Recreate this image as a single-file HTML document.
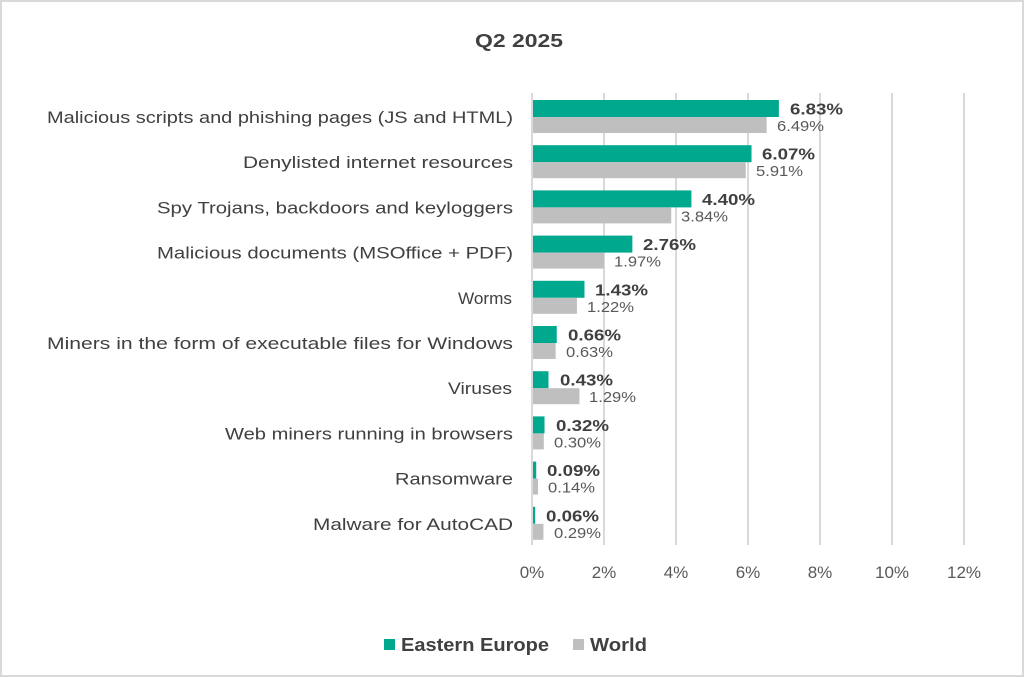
<!DOCTYPE html>
<html><head><meta charset="utf-8"><style>
html,body{margin:0;padding:0;background:#fff}
svg{display:block}
text{font-family:"Liberation Sans",sans-serif}
.c{font-size:17px;fill:#404040;text-anchor:end}
.g{font-size:16px;font-weight:bold;fill:#404040}
.w{font-size:15px;fill:#595959}
</style></head><body>
<svg width="1024" height="677" viewBox="0 0 1024 677" xmlns="http://www.w3.org/2000/svg">
<rect x="1" y="1" width="1022" height="675" fill="#fff" stroke="#d9d9d9" stroke-width="2"/>
<text x="519" y="47" text-anchor="middle" font-size="18" font-weight="bold" fill="#404040" textLength="88" lengthAdjust="spacingAndGlyphs">Q2 2025</text>
<g stroke="#d9d9d9" stroke-width="2">
<line x1="604" y1="93" x2="604" y2="545"/>
<line x1="676" y1="93" x2="676" y2="545"/>
<line x1="748" y1="93" x2="748" y2="545"/>
<line x1="820" y1="93" x2="820" y2="545"/>
<line x1="892" y1="93" x2="892" y2="545"/>
<line x1="964" y1="93" x2="964" y2="545"/>
<line x1="532" y1="93" x2="532" y2="545"/>
</g>
<g fill="#00a88e">
<rect x="533" y="100" width="245.88" height="17"/>
<rect x="533" y="145.2" width="218.52" height="17"/>
<rect x="533" y="190.4" width="158.4" height="17"/>
<rect x="533" y="235.6" width="99.36" height="17"/>
<rect x="533" y="280.8" width="51.48" height="17"/>
<rect x="533" y="326" width="23.76" height="17"/>
<rect x="533" y="371.2" width="15.48" height="17"/>
<rect x="533" y="416.4" width="11.52" height="17"/>
<rect x="533" y="461.6" width="3.24" height="17"/>
<rect x="533" y="506.8" width="2.16" height="17"/>
</g>
<g fill="#bfbfbf">
<rect x="533" y="117" width="233.64" height="16"/>
<rect x="533" y="162.2" width="212.76" height="16"/>
<rect x="533" y="207.4" width="138.24" height="16"/>
<rect x="533" y="252.6" width="70.92" height="16"/>
<rect x="533" y="297.8" width="43.92" height="16"/>
<rect x="533" y="343" width="22.68" height="16"/>
<rect x="533" y="388.2" width="46.44" height="16"/>
<rect x="533" y="433.4" width="10.8" height="16"/>
<rect x="533" y="478.6" width="5.04" height="16"/>
<rect x="533" y="523.8" width="10.44" height="16"/>
</g>
<text class="c" x="513" y="123" textLength="466" lengthAdjust="spacingAndGlyphs">Malicious scripts and phishing pages (JS and HTML)</text>
<text class="c" x="513" y="168.2" textLength="270" lengthAdjust="spacingAndGlyphs">Denylisted internet resources</text>
<text class="c" x="513" y="213.4" textLength="356" lengthAdjust="spacingAndGlyphs">Spy Trojans, backdoors and keyloggers</text>
<text class="c" x="513" y="258.6" textLength="356" lengthAdjust="spacingAndGlyphs">Malicious documents (MSOffice + PDF)</text>
<text class="c" x="512" y="303.8" textLength="54" lengthAdjust="spacingAndGlyphs">Worms</text>
<text class="c" x="513" y="349" textLength="466" lengthAdjust="spacingAndGlyphs">Miners in the form of executable files for Windows</text>
<text class="c" x="512" y="394.2" textLength="64" lengthAdjust="spacingAndGlyphs">Viruses</text>
<text class="c" x="513" y="439.4" textLength="288" lengthAdjust="spacingAndGlyphs">Web miners running in browsers</text>
<text class="c" x="513" y="484.6" textLength="118" lengthAdjust="spacingAndGlyphs">Ransomware</text>
<text class="c" x="513" y="529.8" textLength="200" lengthAdjust="spacingAndGlyphs">Malware for AutoCAD</text>
<text class="g" x="790" y="114.5" textLength="53" lengthAdjust="spacingAndGlyphs">6.83%</text>
<text class="g" x="762" y="159.7" textLength="53" lengthAdjust="spacingAndGlyphs">6.07%</text>
<text class="g" x="702" y="204.9" textLength="53" lengthAdjust="spacingAndGlyphs">4.40%</text>
<text class="g" x="643" y="250.1" textLength="53" lengthAdjust="spacingAndGlyphs">2.76%</text>
<text class="g" x="595" y="295.3" textLength="53" lengthAdjust="spacingAndGlyphs">1.43%</text>
<text class="g" x="568" y="340.5" textLength="53" lengthAdjust="spacingAndGlyphs">0.66%</text>
<text class="g" x="560" y="385.7" textLength="53" lengthAdjust="spacingAndGlyphs">0.43%</text>
<text class="g" x="556" y="430.9" textLength="53" lengthAdjust="spacingAndGlyphs">0.32%</text>
<text class="g" x="547" y="476.1" textLength="53" lengthAdjust="spacingAndGlyphs">0.09%</text>
<text class="g" x="546" y="521.3" textLength="53" lengthAdjust="spacingAndGlyphs">0.06%</text>
<text class="w" x="777" y="131" textLength="47" lengthAdjust="spacingAndGlyphs">6.49%</text>
<text class="w" x="756" y="176.2" textLength="47" lengthAdjust="spacingAndGlyphs">5.91%</text>
<text class="w" x="681" y="221.4" textLength="47" lengthAdjust="spacingAndGlyphs">3.84%</text>
<text class="w" x="614" y="266.6" textLength="47" lengthAdjust="spacingAndGlyphs">1.97%</text>
<text class="w" x="587" y="311.8" textLength="47" lengthAdjust="spacingAndGlyphs">1.22%</text>
<text class="w" x="566" y="357" textLength="47" lengthAdjust="spacingAndGlyphs">0.63%</text>
<text class="w" x="589" y="402.2" textLength="47" lengthAdjust="spacingAndGlyphs">1.29%</text>
<text class="w" x="554" y="447.4" textLength="47" lengthAdjust="spacingAndGlyphs">0.30%</text>
<text class="w" x="548" y="492.6" textLength="47" lengthAdjust="spacingAndGlyphs">0.14%</text>
<text class="w" x="554" y="537.8" textLength="47" lengthAdjust="spacingAndGlyphs">0.29%</text>
<g font-size="17" fill="#595959" text-anchor="middle">
<text x="532" y="578">0%</text><text x="604" y="578">2%</text><text x="676" y="578">4%</text>
<text x="748" y="578">6%</text><text x="820" y="578">8%</text><text x="892" y="578">10%</text><text x="964" y="578">12%</text>
</g>
<rect x="384" y="639" width="11" height="11" fill="#00a88e"/>
<text x="401" y="651" font-size="18" font-weight="bold" fill="#404040" textLength="148" lengthAdjust="spacingAndGlyphs">Eastern Europe</text>
<rect x="573" y="639" width="11" height="11" fill="#bfbfbf"/>
<text x="590" y="651" font-size="18" font-weight="bold" fill="#404040" textLength="57" lengthAdjust="spacingAndGlyphs">World</text>
</svg>
</body></html>
